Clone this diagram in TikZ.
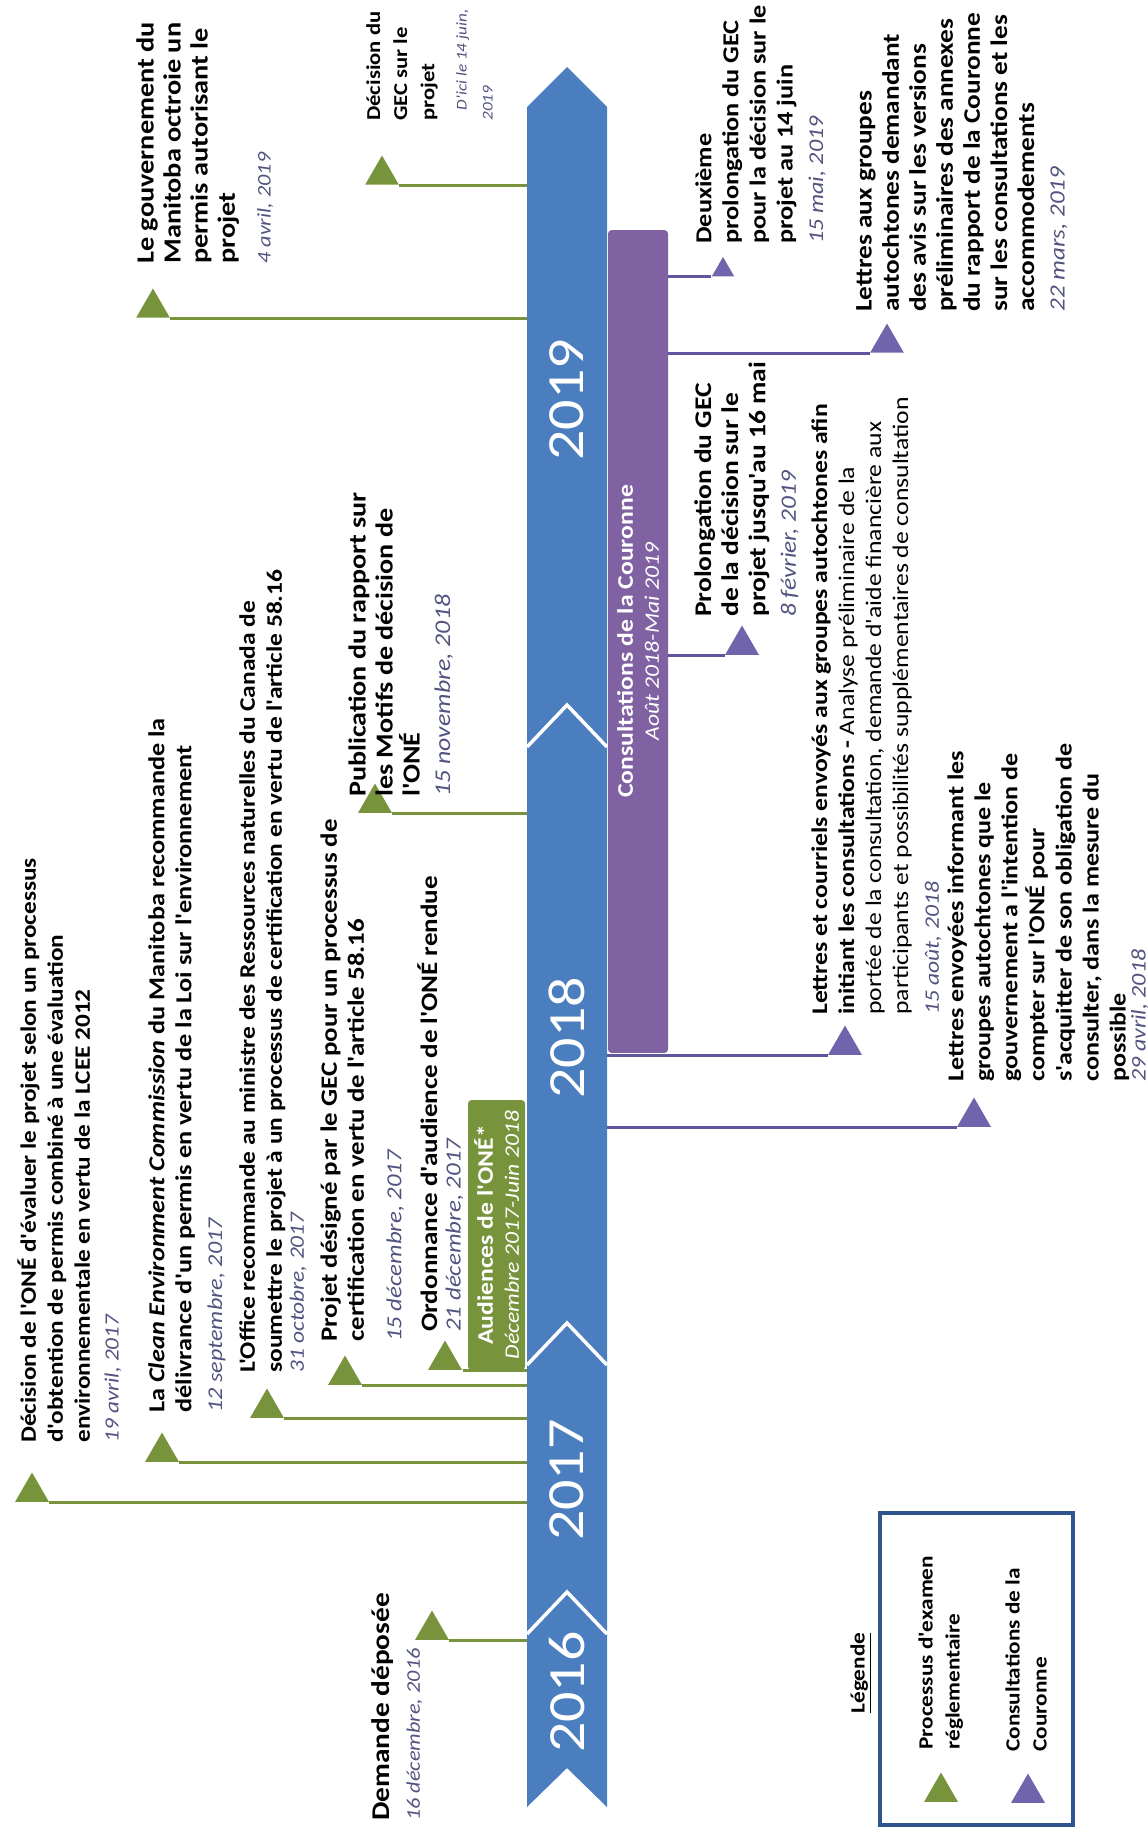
\documentclass[tikz,border=0pt]{standalone}
\usepackage{fontspec}
\setmainfont{Carlito}[Ligatures=TeXOff, FakeStretch=1.15]
\usetikzlibrary{positioning,shapes.geometric}
\definecolor{bandblue}{RGB}{74,126,190}
\definecolor{olive}{RGB}{119,147,60}
\definecolor{crownpurple}{RGB}{128,98,162}
\definecolor{tripurple}{RGB}{112,100,172}
\definecolor{linepurple}{RGB}{96,86,160}
\definecolor{dateblue}{RGB}{82,84,128}
\definecolor{legendblue}{RGB}{47,84,146}

\newcommand{\evtsize}{12.5}
\newcommand{\evtfont}[1]{\def\evtsize{#1}\fontsize{#1}{15.4}\selectfont\bfseries}
\newcommand{\datefont}{\fontsize{\fpeval{0.92*\evtsize}}{15.4}\selectfont\mdseries\itshape\color{dateblue}}
\newcommand{\smalldate}{\fontsize{8.5}{12}\selectfont\mdseries\itshape\color{dateblue}}
\newcommand{\when}[2][2pt]{\\[#1]{\datefont #2}}

\begin{document}
\begin{tikzpicture}[x=0.02cm, y=-0.02cm,
    evt/.style={rotate=90, anchor=north west, align=left, inner sep=0pt, font=\evtfont{#1}},
    evt/.default=12.5,
    gtri/.style={regular polygon, regular polygon sides=3, minimum size=0.78cm, inner sep=0pt, fill=olive},
    ptri/.style={gtri, fill=tripurple},
    gline/.style={draw=olive, line width=1.6pt},
    pline/.style={draw=linepurple, line width=1.6pt},
    yr/.style={rotate=90, text=white, font=\fontsize{29.7}{30}\selectfont},
    bar/.style={rotate=90, inner sep=0pt, rounded corners=2pt, text=white, align=center,
                font=\fontsize{12.7}{14.8}\selectfont}
  ]
  \useasboundingbox (0,0) rectangle (1148,1831);

  % timeline band
  \fill[bandblue] (527,1807) -- (567,1768) -- (607,1807) -- (607,107) -- (567,67) -- (527,107) -- cycle;
  \coordinate (bandL) at (527,67);
  \coordinate (bandR) at (607,67);
  \foreach \y in {1592,1323,705}
    \draw[white, line width=2pt] (527,\y+42) -- (567,\y) -- (607,\y+42);
  \foreach \yr/\y in {2016/1692, 2017/1480, 2018/1038, 2019/400}
    \node[yr] (y\yr) at (567,\y) {\yr};

  % regulatory review (green)
  \node[gtri] (g1) at (153,308) {};
  \node[evt=14] (g1t) at (136,264) {Le gouvernement du\\Manitoba octroie un\\permis autorisant le\\projet\\[5pt]{\datefont\fontsize{11}{15.4}\selectfont 4 avril, 2019}};
  \node[gtri] (g2) at (382,175) {};
  \node[evt=11.2] (g2t) at (366,121) {Décision du\\GEC sur le\\projet\\[3pt]{\smalldate\hspace*{6pt}D'ici le 14 juin,}\\[-0.6pt]{\smalldate 2019}};
  \node[gtri] (g3) at (375,803) {};
  \node[evt=13.9] (g3t) at (348,797) {Publication du rapport sur\\les Motifs de décision de\\l'ONÉ\when{15 novembre, 2018}};
  \node[gtri] (g4) at (445,1360) {};
  \node[evt=13.4] (g4t) at (417,1332) {Ordonnance d'audience de l'ONÉ rendue\when[-2pt]{21 décembre, 2017}};
  \node[gtri] (g5) at (345,1375) {};
  \node[evt=13.3] (g5t) at (320,1342) {Projet désigné par le GEC pour un processus de\\certification en vertu de l'article 58.16\when[6pt]{15 décembre, 2017}};
  \node[gtri] (g6) at (267,1408) {};
  \node[evt=12.6] (g6t) at (239,1373) {L'Office recommande au ministre des Ressources naturelles du Canada de\\soumettre le projet à un processus de certification en vertu de l'article 58.16\when[-3pt]{31 octobre, 2017}};
  \node[gtri] (g7) at (162,1452) {};
  \node[evt=13] (g7t) at (148,1413) {La \textit{Clean Environment Commission} du Manitoba recommande la\\délivrance d'un permis en vertu de la Loi sur l'environnement\when{12 septembre, 2017}};
  \node[gtri] (g8) at (32,1492) {};
  \node[evt=12.5] (g8t) at (17,1443) {Décision de l'ONÉ d'évaluer le projet selon un processus\\d'obtention de permis combiné à une évaluation\\environnementale en vertu de la LCEE 2012\when[1pt]{19 avril, 2017}};
  \node[gtri] (g9) at (432,1630) {};
  \node[evt=14.5] (g9t) at (371,1821) {Demande déposée\\[2pt]{\datefont\fontsize{11}{15.4}\selectfont 16 décembre, 2016}};
  \foreach \n in {g1,g2,g3,g4,g5,g6,g7,g8,g9}
    \draw[gline] (\n.corner 3) -- (\n.corner 3 -| bandL);

  % Crown consultations (purple)
  \node[ptri, minimum size=0.52cm] (p1) at (723,270) {};
  \node[evt=13] (p1t) at (695,244) {Deuxième\\prolongation du GEC\\pour la décision sur le\\projet au 14 juin\when{15 mai, 2019}};
  \node[ptri] (p2) at (887,343) {};
  \node[evt=13.5] (p2t) at (856,312) {Lettres aux groupes\\autochtones demandant\\des avis sur les versions\\préliminaires des annexes\\du rapport de la Couronne\\sur les consultations  et les\\accommodements\when{22 mars, 2019}};
  \node[ptri] (p3) at (742,645) {};
  \node[evt=13.6] (p3t) at (694,617) {Prolongation du GEC\\de la décision sur le\\projet jusqu'au  16 mai\when{8 février, 2019}};
  \node[ptri] (p4) at (845,1045) {};
  \node[evt=12.7] (p4t) at (811,1015) {Lettres et courriels envoyés aux groupes autochtones afin\\initiant les consultations -\mdseries{} Analyse préliminaire de la\\\mdseries portée de la consultation, demande d'aide financière aux\\\mdseries participants et possibilités supplémentaires de consultation\when{15 août, 2018}};
  \node[ptri] (p5) at (974,1117) {};
  \node[evt=12.9] (p5t) at (947,1082) {Lettres envoyées informant les\\groupes autochtones que le\\gouvernement a l'intention de\\compter sur l'ONÉ pour\\s'acquitter de son obligation de\\consulter, dans la mesure du\\possible\when[-4pt]{29 avril, 2018}};

  % period bars
  \node[bar, fill=crownpurple, minimum width=16.46cm, minimum height=1.2cm] (crown) at (638,641.5)
    {{\bfseries Consultations de la Couronne}\\{\fontsize{11.7}{14.8}\selectfont\itshape Août 2018-Mai 2019}};
  \node[bar, fill=olive, minimum width=5.4cm, minimum height=1.14cm] (hear) at (496.5,1235)
    {{\bfseries Audiences de l'ONÉ*}\\{\fontsize{11.7}{14.8}\selectfont\itshape Décembre 2017-Juin 2018}};
  \foreach \n in {p1,p2,p3}
    \draw[pline] (\n.corner 2 -| crown.south) -- (\n.corner 2);
  \foreach \n in {p4,p5}
    \draw[pline] (\n.corner 2 -| bandR) -- (\n.corner 2);

  % legend
  \node[draw=legendblue, line width=2.5pt, minimum width=3.86cm, minimum height=6.24cm] (legend) at (976.5,1669) {};
  \node[rotate=90, font=\evtfont{11.5}] (legtitle) at (861,1673) {\underline{Légende}};
  \node[gtri] (lg) at (941,1792) {};
  \node[evt=11.5] (lgt) at (918,1750) {Processus d'examen\\réglementaire};
  \node[ptri] (lp) at (1028,1793) {};
  \node[evt=11.5] (lpt) at (1005,1752) {Consultations de la\\Couronne};
\end{tikzpicture}
\end{document}
